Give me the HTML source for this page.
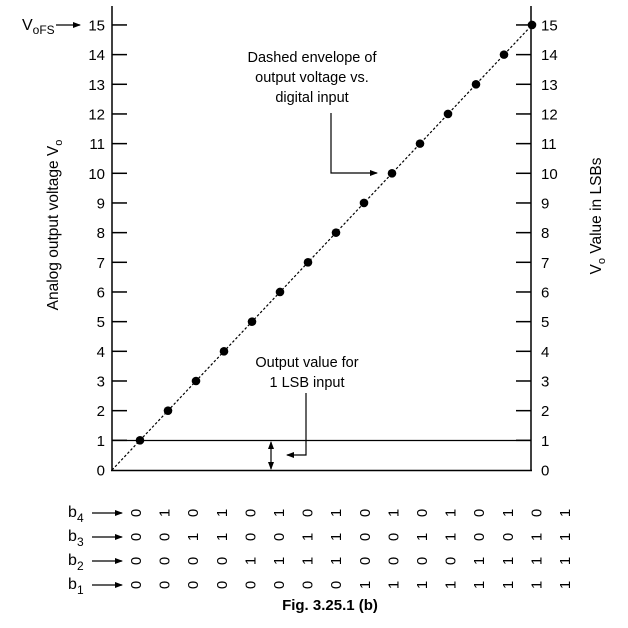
<!DOCTYPE html>
<html><head><style>body{margin:0;background:#fff}svg{display:block}</style></head><body>
<svg width="628" height="628" viewBox="0 0 628 628" xmlns="http://www.w3.org/2000/svg" font-family="Liberation Sans, Arial, sans-serif" fill="#000">
<defs><marker id="ah" markerWidth="8" markerHeight="6" refX="7" refY="3" orient="auto" markerUnits="userSpaceOnUse"><path d="M0,0 L8,3 L0,6 Z"/></marker></defs>
<g stroke="#000" stroke-width="1.5">
<line x1="112" y1="6" x2="112" y2="471"/>
<line x1="531" y1="6" x2="531" y2="471"/>
<line x1="111" y1="470.5" x2="532" y2="470.5"/>
<line x1="112" y1="440.5" x2="531" y2="440.5" stroke-width="1.2"/>
</g>
<g stroke="#000" stroke-width="1.5" id="ticks"></g>
<g font-size="15" id="labels"></g>
<line x1="112" y1="470" x2="532" y2="25" stroke="#000" stroke-width="1.2" stroke-dasharray="2.5,2"/>
<g id="dots"></g>
<text x="22" y="30" font-size="16">V<tspan font-size="12" dy="4">oFS</tspan></text>
<line x1="56" y1="25" x2="80" y2="25" stroke="#000" stroke-width="1.2" marker-end="url(#ah)"/>
<g font-size="14.5" text-anchor="middle">
<text x="312" y="62">Dashed envelope of</text>
<text x="312" y="82">output voltage vs.</text>
<text x="312" y="102">digital input</text>
<text x="307" y="367">Output value for</text>
<text x="307" y="387">1 LSB input</text>
</g>
<polyline points="331,113 331,173 377,173" fill="none" stroke="#000" stroke-width="1.2" marker-end="url(#ah)"/>
<polyline points="306,393 306,455 287,455" fill="none" stroke="#000" stroke-width="1.2" marker-end="url(#ah)"/>
<line x1="271" y1="448" x2="271" y2="442" stroke="#000" stroke-width="1.2" marker-end="url(#ah)"/>
<line x1="271" y1="462" x2="271" y2="469" stroke="#000" stroke-width="1.2" marker-end="url(#ah)"/>
<line x1="271" y1="447" x2="271" y2="463" stroke="#000" stroke-width="1.2"/>
<text transform="translate(58,225) rotate(-90)" font-size="15.5" text-anchor="middle">Analog output voltage V<tspan font-size="11" dy="4">o</tspan></text>
<text transform="translate(601,216) rotate(-90)" font-size="15.5" text-anchor="middle">V<tspan font-size="11" dy="4">o</tspan><tspan dy="-4"> Value in LSBs</tspan></text>
<g id="bits" font-size="15"></g>
<text x="330" y="610" font-size="15" font-weight="bold" text-anchor="middle">Fig.  3.25.1  (b)</text>
</svg>
<script>
var ns="http://www.w3.org/2000/svg";
function el(p,t,a,txt){var e=document.createElementNS(ns,t);for(var k in a)e.setAttribute(k,a[k]);if(txt!=null)e.textContent=txt;document.getElementById(p).appendChild(e);}
for(var v=0;v<=15;v++){var y=470-29.67*v;
 if(v>0){el("ticks","line",{x1:112,y1:y,x2:127,y2:y});el("ticks","line",{x1:516,y1:y,x2:531,y2:y});}
 el("labels","text",{x:105,y:y+5.5,"text-anchor":"end"},v);
 el("labels","text",{x:541,y:y+5.5},v);
 if(v>0)el("dots","circle",{cx:112+28*v,cy:y,r:4.3});
}
var names=["4","3","2","1"];
for(var r=0;r<4;r++){var y=513+24*r;
 el("bits","text",{x:68,y:y+4,"font-size":16},"b");
 el("bits","text",{x:77,y:y+9,"font-size":12},names[r]);
 el("bits","line",{x1:92,y1:y,x2:122,y2:y,stroke:"#000","stroke-width":1.2,"marker-end":"url(#ah)"});
 for(var c=0;c<16;c++){var bit=(c>>r)&1;var x=136+28.6*c;
  el("bits","text",{x:0,y:5,"text-anchor":"middle",transform:"translate("+x+","+y+") rotate(-90)"},bit);}
}
</script>
</body></html>
